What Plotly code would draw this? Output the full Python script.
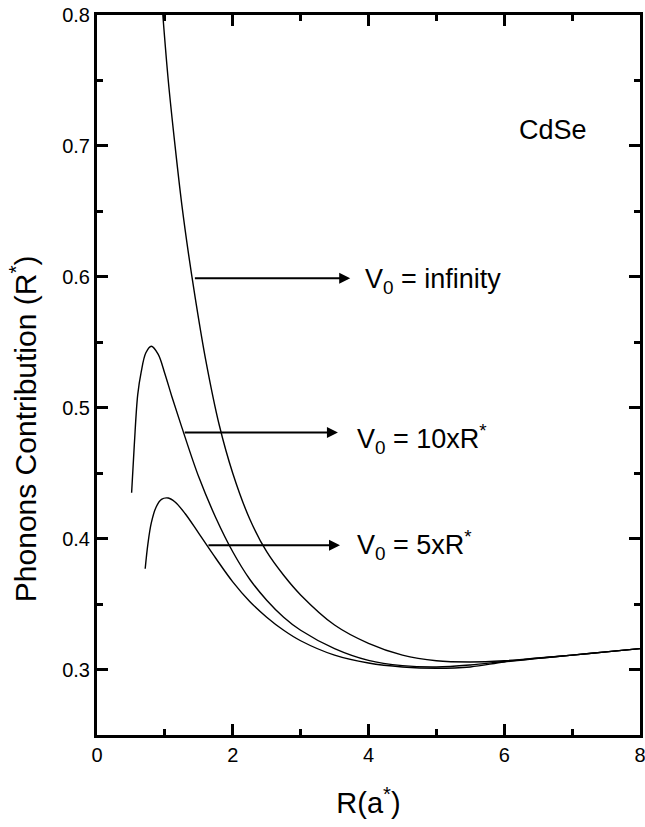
import plotly.graph_objects as go

# ---- data ----
x_inf = [0.97, 1.05, 1.15, 1.25, 1.35, 1.45, 1.6, 1.8, 2.0, 2.25, 2.5, 2.75, 3.0, 3.5, 4.0, 4.5, 5.0, 5.5, 6.0, 6.5, 7.0, 7.5, 8.0]
y_inf = [0.800, 0.750, 0.700, 0.655, 0.617, 0.583, 0.537, 0.487, 0.450, 0.415, 0.390, 0.372, 0.357, 0.334, 0.320, 0.311, 0.3067, 0.3058, 0.3067, 0.3088, 0.311, 0.3135, 0.316]

x_10 = [0.51, 0.55, 0.60, 0.65, 0.72, 0.80, 0.90, 1.0, 1.1, 1.25, 1.5, 1.75, 2.0, 2.25, 2.5, 2.75, 3.0, 3.5, 4.0, 4.5, 5.0, 5.5, 6.0, 6.5, 7.0, 7.5, 8.0]
y_10 = [0.435, 0.472, 0.510, 0.527, 0.542, 0.547, 0.541, 0.526, 0.509, 0.485, 0.447, 0.416, 0.390, 0.369, 0.353, 0.340, 0.330, 0.316, 0.307, 0.303, 0.302, 0.3035, 0.3062, 0.3086, 0.311, 0.3135, 0.316]

x_5 = [0.71, 0.75, 0.80, 0.87, 0.95, 1.05, 1.15, 1.3, 1.5, 1.75, 2.0, 2.25, 2.5, 2.75, 3.0, 3.5, 4.0, 4.5, 5.0, 5.5, 6.0, 6.5, 7.0, 7.5, 8.0]
y_5 = [0.377, 0.396, 0.412, 0.424, 0.430, 0.431, 0.428, 0.419, 0.404, 0.385, 0.367, 0.352, 0.340, 0.330, 0.322, 0.311, 0.305, 0.302, 0.301, 0.302, 0.3058, 0.3085, 0.311, 0.3135, 0.316]

labels = ["V<sub>0</sub> = infinity", "V<sub>0</sub> = 10xR<sup>*</sup>", "V<sub>0</sub> = 5xR<sup>*</sup>"]
arrow_tail_x = [1.42, 1.27, 1.62]
arrow_tip_x = [3.73, 3.55, 3.58]
arrow_y = [0.599, 0.481, 0.395]
label_x = [3.92, 3.80, 3.80]
label_y = [0.597, 0.476, 0.395]

x_title = "R(a<sup>*</sup>)"
y_title = "Phonons Contribution (R<sup>*</sup>)"

FONT = "Liberation Sans, Arial, Helvetica, sans-serif"

fig = go.Figure()
for xs, ys in [(x_inf, y_inf), (x_10, y_10), (x_5, y_5)]:
    fig.add_trace(go.Scatter(x=xs, y=ys, mode="lines",
                             line=dict(color="black", width=1.4, shape="spline", smoothing=1.0),
                             showlegend=False, hoverinfo="skip"))

annotations = []
for tx, hx, ay, lx, ly, lab in zip(arrow_tail_x, arrow_tip_x, arrow_y, label_x, label_y, labels):
    annotations.append(dict(x=hx, y=ay, ax=tx, ay=ay, xref="x", yref="y", axref="x", ayref="y",
                            text="", showarrow=True, arrowhead=2, arrowsize=1.1, arrowwidth=2,
                            arrowcolor="black", standoff=0, startstandoff=0))
    annotations.append(dict(x=lx, y=ly, xref="x", yref="y", text=lab, showarrow=False,
                            xanchor="left", yanchor="middle",
                            font=dict(family=FONT, size=27, color="black")))
annotations.append(dict(x=6.19, y=0.712, xref="x", yref="y", text="CdSe", showarrow=False,
                        xanchor="left", yanchor="middle",
                        font=dict(family=FONT, size=27, color="black")))
# y-axis title (sits a little below the axis centre in the reference)
annotations.append(dict(x=-0.136, y=0.425, xref="paper", yref="paper", text=y_title, showarrow=False,
                        textangle=-90, xanchor="center", yanchor="middle",
                        font=dict(family=FONT, size=30, color="black")))

axis_common = dict(showgrid=False, zeroline=False, showline=True, linecolor="black", linewidth=3,
                   mirror="ticks", ticks="inside", ticklen=11, tickwidth=2.5, tickcolor="black",
                   automargin=False, ticklabeloverflow="allow",
                   tickfont=dict(family=FONT, size=20, color="black"))

fig.update_layout(
    width=645, height=827,
    margin=dict(l=97, r=5, t=15, b=92),
    paper_bgcolor="white", plot_bgcolor="white",
    annotations=annotations,
    xaxis=dict(range=[0, 8], dtick=2, tick0=0,
               minor=dict(dtick=1, ticks="inside", ticklen=6, tickwidth=2.5, tickcolor="black"),
               title=dict(text=x_title, font=dict(family=FONT, size=29, color="black"), standoff=28),
               **axis_common),
    yaxis=dict(range=[0.25, 0.8], dtick=0.1, tick0=0.3, tickformat=".1f",
               minor=dict(dtick=0.05, ticks="inside", ticklen=6, tickwidth=2.5, tickcolor="black"),
               **axis_common),
)

fig.write_html("out.html")
